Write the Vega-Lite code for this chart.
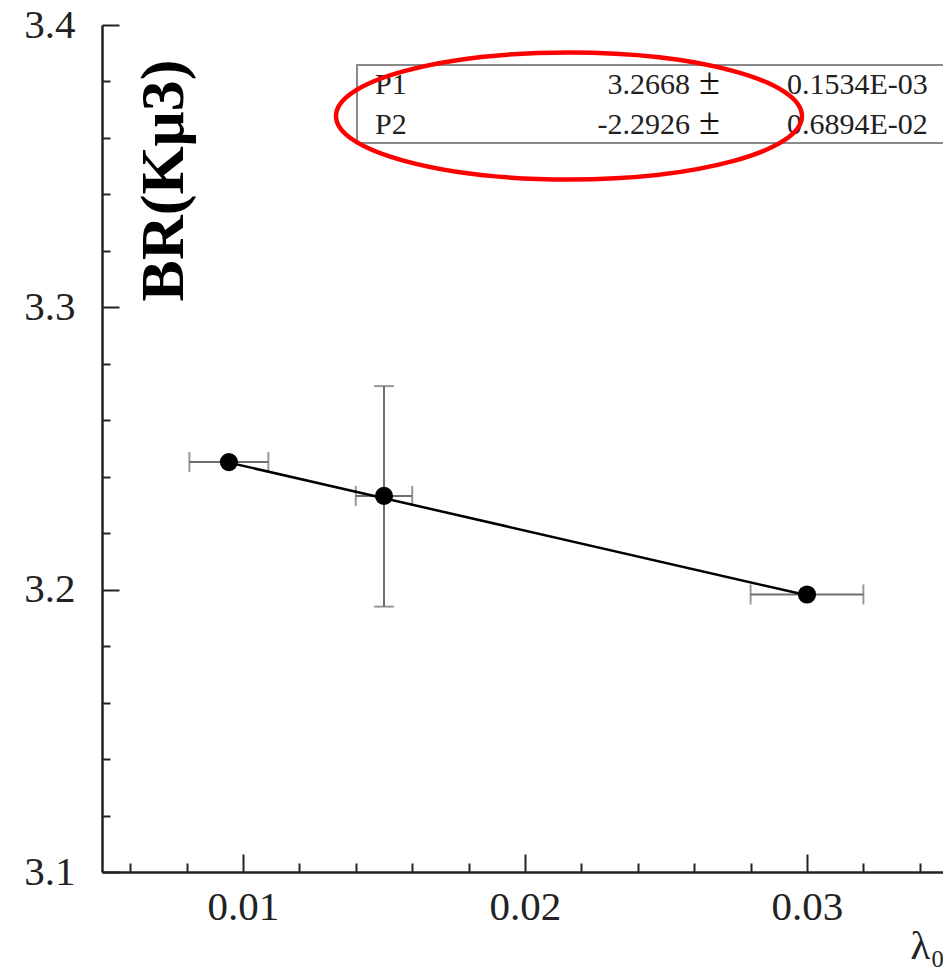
{
  "$schema": "https://vega.github.io/schema/vega-lite/v6.json",
  "width": 841,
  "height": 847,
  "autosize": {"type": "none"},
  "padding": {"left": 102, "top": 25, "right": 0, "bottom": 97},
  "background": "white",
  "config": {
    "view": {"stroke": null},
    "font": "Liberation Serif",
    "axis": {"grid": false, "labelFont": "Liberation Serif", "titleFont": "Liberation Serif"}
  },
  "datasets": {
    "points": [
      {"lambda": 0.0095, "br": 3.2452, "lambda_lo": 0.0081, "lambda_hi": 0.0109},
      {"lambda": 0.015, "br": 3.2332, "lambda_lo": 0.014, "lambda_hi": 0.016, "br_lo": 3.1940, "br_hi": 3.2721},
      {"lambda": 0.030, "br": 3.1983, "lambda_lo": 0.028, "lambda_hi": 0.032}
    ],
    "fit": [
      {"lambda": 0.0095, "br": 3.2450},
      {"lambda": 0.030, "br": 3.1980}
    ],
    "params": [
      {"name": "P1", "value": "3.2668", "error": "0.1534E-03", "row_y": 3.37556},
      {"name": "P2", "value": "-2.2926", "error": "0.6894E-02", "row_y": 3.36139}
    ],
    "box": [
      {"x0": 0.014043, "x1": 0.036, "y0": 3.35821, "y1": 3.38583}
    ],
    "highlight": [
      {"lambda": 0.02156, "br": 3.36777}
    ]
  },
  "layer": [
    {
      "data": {"name": "points"},
      "mark": {"type": "rule", "color": "#6e6e6e", "strokeWidth": 2},
      "encoding": {
        "x": {
          "field": "lambda_lo",
          "type": "quantitative",
          "scale": {"domain": [0.005, 0.034823], "nice": false, "zero": false},
          "axis": {
            "title": "λ₀",
            "titleX": 808,
            "titleY": 86,
            "titleAlign": "left",
            "titleBaseline": "alphabetic",
            "titleAngle": 0,
            "titleFont": "Liberation Serif",
            "titleFontSize": 41,
            "titleFontWeight": "normal",
            "titleColor": "#222",
            "values": [0.006, 0.008, 0.01, 0.012, 0.014, 0.016, 0.018, 0.02, 0.022, 0.024, 0.026, 0.028, 0.03, 0.032, 0.034],
            "labelExpr": "abs(datum.value*100 - round(datum.value*100)) < 0.001 ? format(datum.value, '.2f') : ''",
            "tickSize": {"condition": {"test": "abs(datum.value*100 - round(datum.value*100)) < 0.001", "value": -18}, "value": -9},
            "tickColor": "#222",
            "tickWidth": 2,
            "domainColor": "#222",
            "domainWidth": 2.5,
            "labelFont": "Liberation Serif",
            "labelFontSize": 41,
            "labelColor": "#222",
            "labelBaseline": "top",
            "labelPadding": 33,
            "labelFlush": false,
            "labelOverlap": false
          }
        },
        "x2": {"field": "lambda_hi"},
        "y": {
          "field": "br",
          "type": "quantitative",
          "scale": {"domain": [3.1, 3.4], "nice": false, "zero": false},
          "axis": {
            "title": "BR(Kμ3)",
            "titleX": 80,
            "titleY": 155,
            "titleAngle": -90,
            "titleAlign": "center",
            "titleBaseline": "alphabetic",
            "titleFont": "Liberation Serif",
            "titleFontSize": 62,
            "titleFontWeight": "bold",
            "titleColor": "black",
            "values": [3.1, 3.12, 3.14, 3.16, 3.18, 3.2, 3.22, 3.24, 3.26, 3.28, 3.3, 3.32, 3.34, 3.36, 3.38, 3.4],
            "labelExpr": "abs(datum.value*10 - round(datum.value*10)) < 0.001 ? format(datum.value, '.1f') : ''",
            "tickSize": {"condition": {"test": "abs(datum.value*10 - round(datum.value*10)) < 0.001", "value": -17}, "value": -8},
            "tickColor": "#222",
            "tickWidth": 2,
            "domainColor": "#222",
            "domainWidth": 2.5,
            "labelFont": "Liberation Serif",
            "labelFontSize": 41,
            "labelColor": "#222",
            "labelBaseline": "middle",
            "labelPadding": 44,
            "labelFlush": false,
            "labelOverlap": false
          }
        }
      }
    },
    {
      "data": {"name": "points"},
      "mark": {"type": "tick", "orient": "vertical", "color": "#6e6e6e", "thickness": 2, "size": 20},
      "encoding": {
        "x": {"field": "lambda_lo", "type": "quantitative"},
        "y": {"field": "br", "type": "quantitative"}
      }
    },
    {
      "data": {"name": "points"},
      "mark": {"type": "tick", "orient": "vertical", "color": "#6e6e6e", "thickness": 2, "size": 20},
      "encoding": {
        "x": {"field": "lambda_hi", "type": "quantitative"},
        "y": {"field": "br", "type": "quantitative"}
      }
    },
    {
      "data": {"name": "points"},
      "transform": [{"filter": "isValid(datum.br_lo)"}],
      "mark": {"type": "rule", "color": "#6e6e6e", "strokeWidth": 2},
      "encoding": {
        "x": {"field": "lambda", "type": "quantitative"},
        "y": {"field": "br_lo", "type": "quantitative"},
        "y2": {"field": "br_hi"}
      }
    },
    {
      "data": {"name": "points"},
      "transform": [{"filter": "isValid(datum.br_lo)"}],
      "mark": {"type": "tick", "orient": "horizontal", "color": "#6e6e6e", "thickness": 2, "size": 20},
      "encoding": {
        "x": {"field": "lambda", "type": "quantitative"},
        "y": {"field": "br_lo", "type": "quantitative"}
      }
    },
    {
      "data": {"name": "points"},
      "transform": [{"filter": "isValid(datum.br_hi)"}],
      "mark": {"type": "tick", "orient": "horizontal", "color": "#6e6e6e", "thickness": 2, "size": 20},
      "encoding": {
        "x": {"field": "lambda", "type": "quantitative"},
        "y": {"field": "br_hi", "type": "quantitative"}
      }
    },
    {
      "data": {"name": "fit"},
      "mark": {"type": "line", "color": "black", "strokeWidth": 2.5},
      "encoding": {
        "x": {"field": "lambda", "type": "quantitative"},
        "y": {"field": "br", "type": "quantitative"}
      }
    },
    {
      "data": {"name": "points"},
      "mark": {"type": "point", "shape": "circle", "filled": true, "color": "black", "opacity": 1, "size": 330},
      "encoding": {
        "x": {"field": "lambda", "type": "quantitative"},
        "y": {"field": "br", "type": "quantitative"}
      }
    },
    {
      "data": {"name": "box"},
      "mark": {"type": "rect", "fill": "white", "fillOpacity": 0, "stroke": "#8a8a8a", "strokeWidth": 2, "clip": true},
      "encoding": {
        "x": {"field": "x0", "type": "quantitative"},
        "x2": {"field": "x1"},
        "y": {"field": "y0", "type": "quantitative"},
        "y2": {"field": "y1"}
      }
    },
    {
      "data": {"name": "params"},
      "mark": {"type": "text", "align": "left", "baseline": "alphabetic", "font": "Liberation Serif", "fontSize": 30, "color": "#222"},
      "encoding": {
        "x": {"datum": 0.014681},
        "y": {"field": "row_y", "type": "quantitative"},
        "text": {"field": "name"}
      }
    },
    {
      "data": {"name": "params"},
      "mark": {"type": "text", "align": "right", "baseline": "alphabetic", "font": "Liberation Serif", "fontSize": 30, "color": "#222"},
      "encoding": {
        "x": {"datum": 0.025851},
        "y": {"field": "row_y", "type": "quantitative"},
        "text": {"field": "value"}
      }
    },
    {
      "data": {"name": "params"},
      "mark": {"type": "text", "align": "left", "baseline": "alphabetic", "font": "Liberation Serif", "fontSize": 38, "color": "#111", "text": "±"},
      "encoding": {
        "x": {"datum": 0.02617},
        "y": {"field": "row_y", "type": "quantitative"}
      }
    },
    {
      "data": {"name": "params"},
      "mark": {"type": "text", "align": "left", "baseline": "alphabetic", "font": "Liberation Serif", "fontSize": 30, "color": "#222"},
      "encoding": {
        "x": {"datum": 0.029291},
        "y": {"field": "row_y", "type": "quantitative"},
        "text": {"field": "error"}
      }
    },
    {
      "mark": {"type": "rule", "color": "#222", "strokeWidth": 2.5},
      "encoding": {"y": {"datum": 3.4}}
    },
    {
      "data": {"name": "highlight"},
      "mark": {
        "type": "point",
        "shape": "M-1,0A1,0.2725,0,1,1,1,0A1,0.2725,0,1,1,-1,0Z",
        "filled": false,
        "stroke": "#ff0000",
        "strokeWidth": 4.5,
        "opacity": 1,
        "size": 217156
      },
      "encoding": {
        "x": {"field": "lambda", "type": "quantitative"},
        "y": {"field": "br", "type": "quantitative"}
      }
    }
  ]
}
